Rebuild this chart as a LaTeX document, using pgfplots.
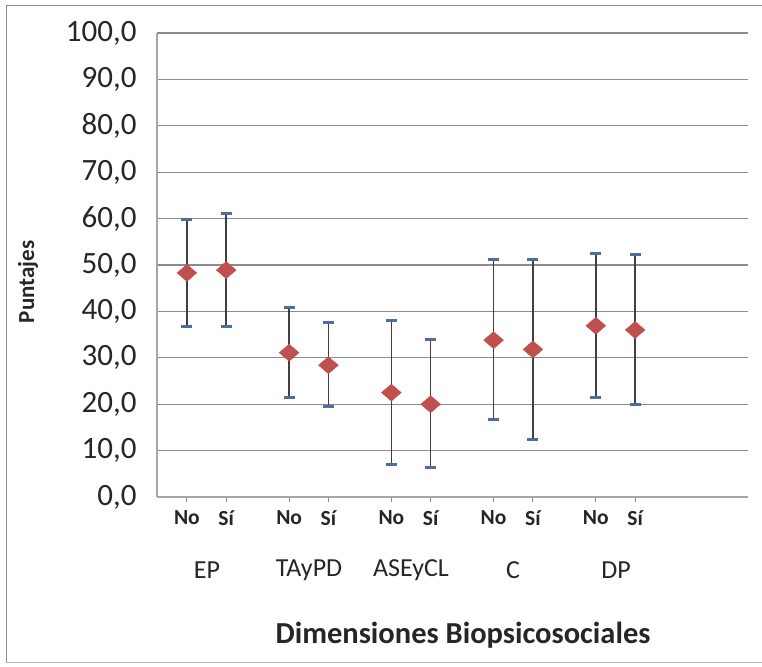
\documentclass[border=0pt]{standalone}
\usepackage{pgfplots}
\pgfplotsset{compat=1.18}
\usepackage{pgfplotstable}
\usepackage{fontspec}
\setmainfont{Carlito}
\definecolor{mred}{HTML}{C0504D}
\definecolor{capblue}{HTML}{4F6E9F}
\definecolor{barg}{HTML}{404040}
\definecolor{gridg}{HTML}{8C8C8C}
\definecolor{axg}{HTML}{A6A6A6}
\definecolor{txt}{HTML}{262626}
\pgfplotstableread{
x    y    ep   em
0    48.3 11.4 11.6
1    48.9 12.1 12.2
2.6  31.1 9.8  9.7
3.6  28.4 9.2  8.8
5.2  22.5 15.6 15.5
6.2  20.0 14.0 13.6
7.8  33.8 17.3 17.2
8.8  31.8 19.4 19.4
10.4 36.9 15.5 15.5
11.4 36.0 16.2 16.0
}\data
\begin{document}
\begin{tikzpicture}[x=1pt,y=1pt]
\useasboundingbox (0,0) rectangle (762,666);
\draw[gridg, line width=1pt] (6,4) -- (6,660) -- (762,660);
\draw[gridg!60, line width=0.8pt] (6,4) -- (762,4);
\begin{axis}[
  at={(157pt,169pt)}, anchor=south west,
  scale only axis, width=591pt, height=464pt,
  xmin=-0.76, xmax=14.27, ymin=0, ymax=100,
  axis x line*=bottom, axis y line*=left,
  axis line style={axg, line width=2pt},
  ytick={0,10,...,100},
  ymajorgrids, grid style={gridg, line width=1.1pt},
  ytick style={draw=none},
  xtick={0,1,2.6,3.6,5.2,6.2,7.8,8.8,10.4,11.4},
  xticklabels={No,Sí,No,Sí,No,Sí,No,Sí,No,Sí},
  x tick style={gridg, line width=1pt},
  xtick align=outside, major tick length=5pt,
  x tick label style={font=\fontsize{21.5}{23}\selectfont\bfseries, text=txt, yshift=-5pt},
  y tick label style={font=\fontsize{31}{33}\selectfont, text=txt, xshift=-17pt},
  /pgf/number format/.cd, fixed, fixed zerofill, precision=1, use comma, assume math mode=true,
]
\addplot[only marks, mark=diamond*, mark size=8.5pt,
  mark options={fill=mred, draw=mred, xscale=1.55},
  error bars/.cd, y dir=both, y explicit,
  error bar style={barg, line width=1.6pt},
  error mark options={capblue, line width=3pt, mark size=5.5pt, rotate=90}]
  table[x=x, y=y, y error plus=ep, y error minus=em] {\data};
\end{axis}
\begin{scope}[font=\fontsize{26}{28}\selectfont, text=txt]
\node at (207,96) {EP};
\node at (309,96) {TAyPD};
\node at (411,96) {ASEyCL};
\node at (513,96) {C};
\node at (616,96) {DP};
\end{scope}
\node[rotate=90, font=\fontsize{23}{25}\selectfont\bfseries, text=txt] at (28,384) {Puntajes};
\node[font=\fontsize{30.5}{32}\selectfont\bfseries, text=txt] at (463,31) {Dimensiones Biopsicosociales};
\end{tikzpicture}
\end{document}
